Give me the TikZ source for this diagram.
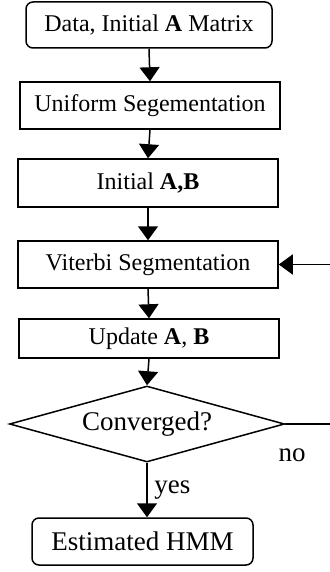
\documentclass[tikz,border=0pt]{standalone}
\usepackage{fontspec}
\setmainfont{Liberation Serif}
\usetikzlibrary{shapes.geometric,arrows.meta}
\tikzset{
    flow-box/.style = {draw, line width=0.75pt, rectangle, inner sep=2pt, font=\fontsize{12}{14}\selectfont},
    flow-end/.style = {flow-box, rounded corners=3.5pt},
    flow-test/.style = {draw, line width=0.75pt, diamond, aspect=3.6, inner sep=0pt, font=\fontsize{13.5}{16}\selectfont},
    flow-arrow/.style = {draw, line width=0.75pt, -{Triangle[length=7pt,width=10pt]}},
    flow-note/.style = {font=\fontsize{13.5}{16}\selectfont},
}
\begin{document}
\begin{tikzpicture}[x=0.5pt, y=-0.5pt]
\useasboundingbox (0,0) rectangle (329,572);
\node [flow-end, minimum width=123pt, minimum height=23pt] (data) at (149,25) {Data, Initial \textbf{A} Matrix};
\node [flow-box, minimum width=130pt, minimum height=23.5pt] (uniform) at (150,105.5) {Uniform Segementation};
\node [flow-box, minimum width=130pt, minimum height=24pt] (init) at (148,183) {Initial \textbf{A,B}};
\node [flow-box, minimum width=130pt, minimum height=23.5pt] (viterbi) at (148,264.5) {Viterbi Segmentation};
\node [flow-box, minimum width=130pt, minimum height=19.5pt] (update) at (149,338.5) {Update \textbf{A}, \textbf{B}};
\node [flow-test, minimum width=137.5pt, minimum height=38pt] (conv) at (147,424) {Converged?};
\node [flow-end, font=\fontsize{13.5}{16}\selectfont, minimum width=110.5pt, minimum height=23.5pt] (hmm) at (142.5,541.5) {Estimated HMM};
\coordinate (loop) at (345,0);

\draw [flow-arrow] (data.south) -- (uniform.north);
\draw [flow-arrow] (uniform.south) -- (init.north);
\draw [flow-arrow] (init.south) -- (viterbi.north);
\draw [flow-arrow] (viterbi.south) -- (update.north);
\draw [flow-arrow] (update.south) -- (conv.north);
\draw [flow-arrow] (conv.south) -- node[right, flow-note] {yes} (conv.south |- hmm.north);
\draw [flow-arrow] (conv.east) -- (conv.east -| loop) |- (viterbi.east);
\node [flow-note] (no) at (292,455) {no};
\end{tikzpicture}
\end{document}
